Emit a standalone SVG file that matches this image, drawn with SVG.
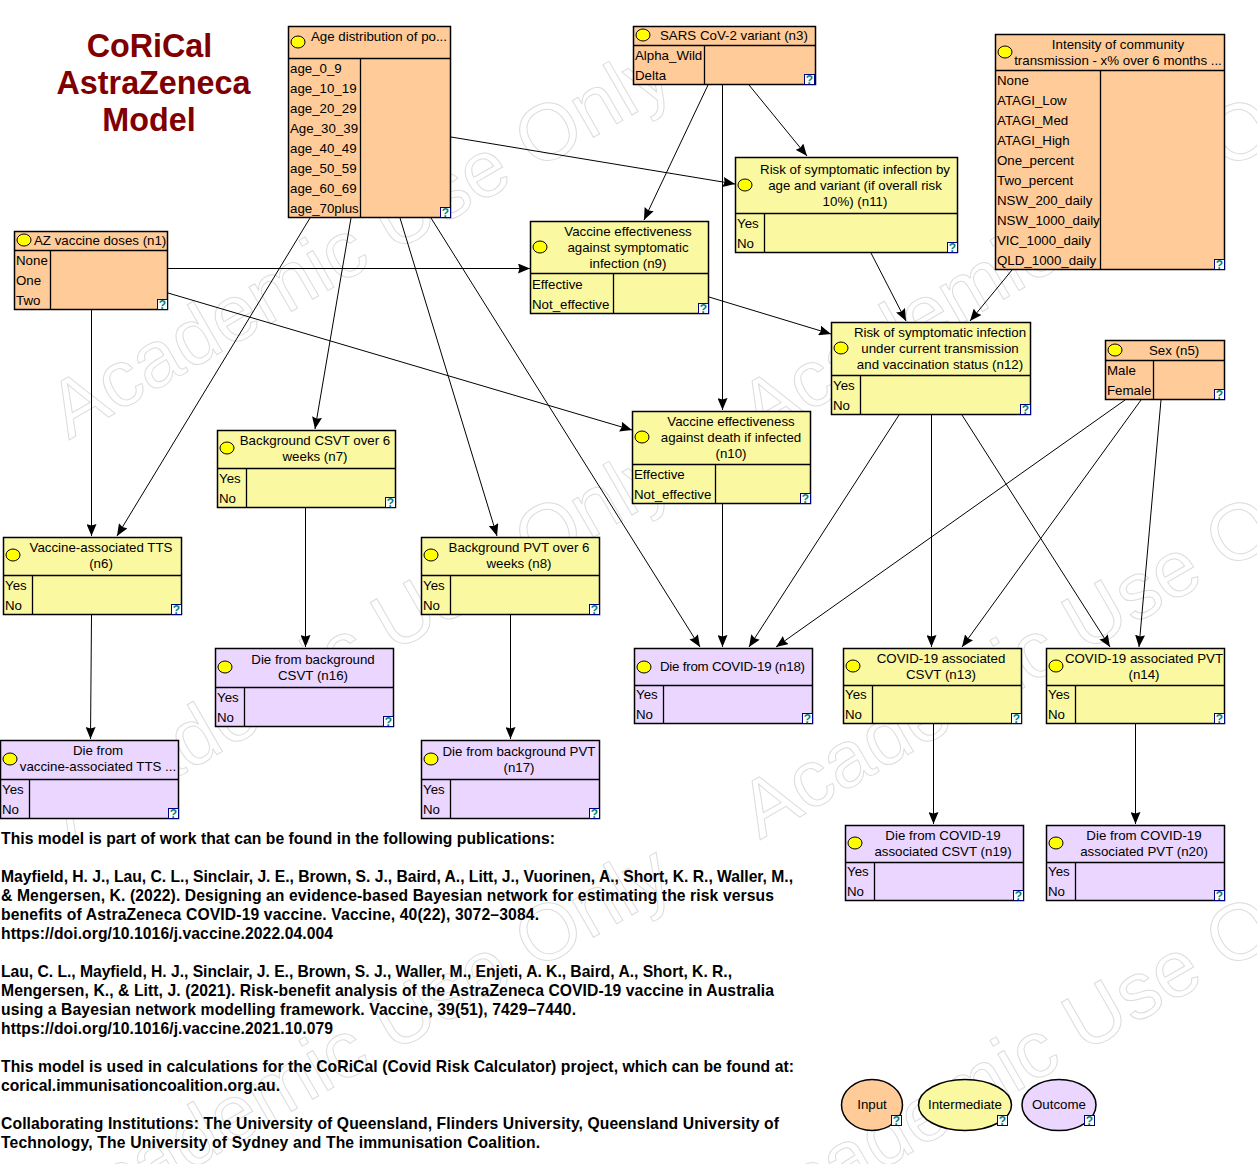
<svg xmlns="http://www.w3.org/2000/svg" width="1257" height="1164" viewBox="0 0 1257 1164">
<defs>
<marker id="arr" viewBox="0 0 12 10" refX="12" refY="5" markerWidth="12" markerHeight="10" markerUnits="userSpaceOnUse" orient="auto"><path d="M0 0L12 5L0 10L1.500 5Z" fill="#000"/></marker>
<g id="q"><rect x="0.5" y="0.5" width="10" height="10" fill="#fff" stroke="#000080"/><text x="5.5" y="9.5" text-anchor="middle" class="qm">?</text></g>
</defs>
<style>
text{font-family:"Liberation Sans",Arial,sans-serif;font-size:13.3px;fill:#000}
.wm{font-size:80px;fill:none;stroke:#dcdcdc;stroke-width:1}
.qm{font-size:12px;font-weight:bold;fill:#008080}
.t{font-size:32.3px;font-weight:bold;fill:#800000;text-anchor:middle}
.b{font-size:15.7px;font-weight:bold}
.c{text-anchor:middle}
.box{stroke:#000;stroke-width:1.5}
.in{fill:#FFCC99}.im{fill:#FAF8A0}.ou{fill:#EAD6FF}
.ln{stroke:#000;stroke-width:1.3;fill:none}
.bulb{fill:#FFFF00;stroke:#000;stroke-width:1}
#edges line{stroke:#000;stroke-width:1;marker-end:url(#arr)}
</style>
<rect width="1257" height="1164" fill="#fff"/>
<g id="watermark">
<text class="wm" transform="translate(69,440) rotate(-30)">Academic Use Only</text>
<text class="wm" transform="translate(69,840) rotate(-30)">Academic Use Only</text>
<text class="wm" transform="translate(69,1240) rotate(-30)">Academic Use Only</text>
<text class="wm" transform="translate(760,440) rotate(-30)">Academic Use Only</text>
<text class="wm" transform="translate(760,840) rotate(-30)">Academic Use Only</text>
<text class="wm" transform="translate(760,1240) rotate(-30)">Academic Use Only</text>
</g>
<g id="title"><text class="t" x="149.500" y="57">CoRiCal</text><text class="t" x="153.500" y="94">AstraZeneca</text><text class="t" x="149" y="131">Model</text></g>
<g id="edges">
<line x1="451" y1="137" x2="735" y2="184"/><line x1="310" y1="218" x2="117" y2="536"/><line x1="351" y1="218" x2="315" y2="429"/><line x1="400" y1="218" x2="497" y2="536"/><line x1="431" y1="218" x2="700" y2="647"/>
<line x1="708" y1="85" x2="644" y2="220"/><line x1="722.500" y1="85" x2="722.500" y2="410"/><line x1="749" y1="85" x2="807" y2="156"/><line x1="1012" y1="270" x2="970" y2="321"/>
<line x1="168" y1="268.500" x2="530" y2="268.500"/><line x1="168" y1="293" x2="632" y2="430"/><line x1="91.500" y1="310" x2="91.500" y2="536"/><line x1="709" y1="297" x2="831" y2="334"/><line x1="871" y1="253" x2="906" y2="321"/>
<line x1="305.500" y1="508" x2="305.500" y2="647"/><line x1="91.500" y1="615" x2="90.500" y2="739"/><line x1="510.500" y1="615" x2="510.500" y2="739"/><line x1="722.500" y1="504" x2="722.500" y2="647"/>
<line x1="899" y1="415" x2="749" y2="647"/><line x1="931.500" y1="415" x2="931.500" y2="647"/><line x1="962" y1="415" x2="1110" y2="647"/><line x1="1125" y1="400" x2="776" y2="647"/><line x1="1141" y1="400" x2="962" y2="647"/><line x1="1161" y1="400" x2="1139" y2="647"/>
<line x1="933.500" y1="724" x2="933.500" y2="824"/><line x1="1135.500" y1="724" x2="1135.500" y2="824"/>
</g>
<g id="n2"><rect class="box in" x="288.500" y="26.500" width="162" height="191"/><path class="ln" d="M288.500 58.500H450.500M360.500 58.500V217.500"/><ellipse class="bulb" cx="298" cy="42" rx="7" ry="6"/><text x="311" y="41">Age distribution of po...</text><text x="290" y="73">age_0_9</text><text x="290" y="93">age_10_19</text><text x="290" y="113">age_20_29</text><text x="290" y="133">Age_30_39</text><text x="290" y="153">age_40_49</text><text x="290" y="173">age_50_59</text><text x="290" y="193">age_60_69</text><text x="290" y="213">age_70plus</text><use href="#q" x="440" y="207"/></g>
<g id="n3"><rect class="box in" x="633.500" y="26.500" width="182" height="58"/><path class="ln" d="M633.500 45.500H815.500M704.500 45.500V84.500"/><ellipse class="bulb" cx="643" cy="35" rx="7" ry="6"/><text x="660" y="40">SARS CoV-2 variant (n3)</text><text x="635" y="60">Alpha_Wild</text><text x="635" y="80">Delta</text><use href="#q" x="804" y="74"/></g>
<g id="n4"><rect class="box in" x="995.500" y="34.500" width="229" height="235"/><path class="ln" d="M995.500 70.500H1224.500M1100.500 70.500V269.500"/><ellipse class="bulb" cx="1005" cy="52" rx="7" ry="6"/><text class="c" x="1118" y="49">Intensity of community</text><text class="c" x="1118" y="65">transmission - x% over 6 months ...</text><text x="997" y="85">None</text><text x="997" y="105">ATAGI_Low</text><text x="997" y="125">ATAGI_Med</text><text x="997" y="145">ATAGI_High</text><text x="997" y="165">One_percent</text><text x="997" y="185">Two_percent</text><text x="997" y="205">NSW_200_daily</text><text x="997" y="225">NSW_1000_daily</text><text x="997" y="245">VIC_1000_daily</text><text x="997" y="265">QLD_1000_daily</text><use href="#q" x="1214" y="259"/></g>
<g id="n1"><rect class="box in" x="14.500" y="231.500" width="153" height="78"/><path class="ln" d="M14.500 250.500H167.500M50.500 250.500V309.500"/><ellipse class="bulb" cx="24" cy="240" rx="7" ry="6"/><text x="34" y="245">AZ vaccine doses (n1)</text><text x="16" y="265">None</text><text x="16" y="285">One</text><text x="16" y="305">Two</text><use href="#q" x="157" y="299"/></g>
<g id="n9"><rect class="box im" x="530.500" y="221.500" width="178" height="92"/><path class="ln" d="M530.500 273.500H708.500M613.500 273.500V313.500"/><ellipse class="bulb" cx="540" cy="247" rx="7" ry="6"/><text class="c" x="628" y="236">Vaccine effectiveness</text><text class="c" x="628" y="252">against symptomatic</text><text class="c" x="628" y="268">infection (n9)</text><text x="532" y="289">Effective</text><text x="532" y="309">Not_effective</text><use href="#q" x="698" y="303"/></g>
<g id="n11"><rect class="box im" x="735.500" y="157.500" width="222" height="95"/><path class="ln" d="M735.500 213.500H957.500M764.500 213.500V252.500"/><ellipse class="bulb" cx="745" cy="185" rx="7" ry="6"/><text class="c" x="855" y="174">Risk of symptomatic infection by</text><text class="c" x="855" y="190">age and variant (if overall risk</text><text class="c" x="855" y="206">10%) (n11)</text><text x="737" y="228">Yes</text><text x="737" y="248">No</text><use href="#q" x="947" y="242"/></g>
<g id="n12"><rect class="box im" x="831.500" y="322.500" width="199" height="92"/><path class="ln" d="M831.500 375.500H1030.500M860.500 375.500V414.500"/><ellipse class="bulb" cx="841" cy="348" rx="7" ry="6"/><text class="c" x="940" y="337">Risk of symptomatic infection</text><text class="c" x="940" y="353">under current transmission</text><text class="c" x="940" y="369">and vaccination status (n12)</text><text x="833" y="390">Yes</text><text x="833" y="410">No</text><use href="#q" x="1020" y="404"/></g>
<g id="n5"><rect class="box in" x="1105.500" y="340.500" width="119" height="59"/><path class="ln" d="M1105.500 360.500H1224.500M1153.500 360.500V399.500"/><ellipse class="bulb" cx="1115" cy="350" rx="7" ry="6"/><text x="1149" y="355">Sex (n5)</text><text x="1107" y="375">Male</text><text x="1107" y="395">Female</text><use href="#q" x="1214" y="389"/></g>
<g id="n10"><rect class="box im" x="632.500" y="411.500" width="178" height="92"/><path class="ln" d="M632.500 464.500H810.500M715.500 464.500V503.500"/><ellipse class="bulb" cx="642" cy="437" rx="7" ry="6"/><text class="c" x="731" y="426">Vaccine effectiveness</text><text class="c" x="731" y="442">against death if infected</text><text class="c" x="731" y="458">(n10)</text><text x="634" y="479">Effective</text><text x="634" y="499">Not_effective</text><use href="#q" x="800" y="493"/></g>
<g id="n7"><rect class="box im" x="217.500" y="430.500" width="178" height="77"/><path class="ln" d="M217.500 468.500H395.500M246.500 468.500V507.500"/><ellipse class="bulb" cx="227" cy="448" rx="7" ry="6"/><text class="c" x="315" y="445">Background CSVT over 6</text><text class="c" x="315" y="461">weeks (n7)</text><text x="219" y="483">Yes</text><text x="219" y="503">No</text><use href="#q" x="385" y="497"/></g>
<g id="n6"><rect class="box im" x="3.500" y="537.500" width="178" height="77"/><path class="ln" d="M3.500 575.500H181.500M32.500 575.500V614.500"/><ellipse class="bulb" cx="13" cy="555" rx="7" ry="6"/><text class="c" x="101" y="552">Vaccine-associated TTS</text><text class="c" x="101" y="568">(n6)</text><text x="5" y="590">Yes</text><text x="5" y="610">No</text><use href="#q" x="171" y="604"/></g>
<g id="n8"><rect class="box im" x="421.500" y="537.500" width="178" height="77"/><path class="ln" d="M421.500 575.500H599.500M450.500 575.500V614.500"/><ellipse class="bulb" cx="431" cy="555" rx="7" ry="6"/><text class="c" x="519" y="552">Background PVT over 6</text><text class="c" x="519" y="568">weeks (n8)</text><text x="423" y="590">Yes</text><text x="423" y="610">No</text><use href="#q" x="589" y="604"/></g>
<g id="n16"><rect class="box ou" x="215.500" y="648.500" width="178" height="78"/><path class="ln" d="M215.500 687.500H393.500M244.500 687.500V726.500"/><ellipse class="bulb" cx="225" cy="667" rx="7" ry="6"/><text class="c" x="313" y="664">Die from background</text><text class="c" x="313" y="680">CSVT (n16)</text><text x="217" y="702">Yes</text><text x="217" y="722">No</text><use href="#q" x="383" y="716"/></g>
<g id="n15"><rect class="box ou" x="0.500" y="740.500" width="178" height="78"/><path class="ln" d="M0.500 779.500H178.500M29.500 779.500V818.500"/><ellipse class="bulb" cx="10" cy="759" rx="7" ry="6"/><text class="c" x="98" y="755">Die from</text><text class="c" x="98" y="771">vaccine-associated TTS ...</text><text x="2" y="794">Yes</text><text x="2" y="814">No</text><use href="#q" x="168" y="808"/></g>
<g id="n17"><rect class="box ou" x="421.500" y="740.500" width="178" height="78"/><path class="ln" d="M421.500 779.500H599.500M450.500 779.500V818.500"/><ellipse class="bulb" cx="431" cy="759" rx="7" ry="6"/><text class="c" x="519" y="756">Die from background PVT</text><text class="c" x="519" y="772">(n17)</text><text x="423" y="794">Yes</text><text x="423" y="814">No</text><use href="#q" x="589" y="808"/></g>
<g id="n18"><rect class="box ou" x="634.500" y="648.500" width="178" height="75"/><path class="ln" d="M634.500 685.500H812.500M663.500 685.500V723.500"/><ellipse class="bulb" cx="644" cy="667" rx="7" ry="6"/><text x="660" y="671" textLength="145">Die from COVID-19 (n18)</text><text x="636" y="699">Yes</text><text x="636" y="719">No</text><use href="#q" x="802" y="713"/></g>
<g id="n13"><rect class="box im" x="843.500" y="648.500" width="178" height="75"/><path class="ln" d="M843.500 685.500H1021.500M872.500 685.500V723.500"/><ellipse class="bulb" cx="853" cy="666" rx="7" ry="6"/><text class="c" x="941" y="663">COVID-19 associated</text><text class="c" x="941" y="679">CSVT (n13)</text><text x="845" y="699">Yes</text><text x="845" y="719">No</text><use href="#q" x="1011" y="713"/></g>
<g id="n14"><rect class="box im" x="1046.500" y="648.500" width="178" height="75"/><path class="ln" d="M1046.500 685.500H1224.500M1075.500 685.500V723.500"/><ellipse class="bulb" cx="1056" cy="666" rx="7" ry="6"/><text class="c" x="1144" y="663">COVID-19 associated PVT</text><text class="c" x="1144" y="679">(n14)</text><text x="1048" y="699">Yes</text><text x="1048" y="719">No</text><use href="#q" x="1214" y="713"/></g>
<g id="n19"><rect class="box ou" x="845.500" y="825.500" width="178" height="75"/><path class="ln" d="M845.500 862.500H1023.500M874.500 862.500V900.500"/><ellipse class="bulb" cx="855" cy="843" rx="7" ry="6"/><text class="c" x="943" y="840">Die from COVID-19</text><text class="c" x="943" y="856">associated CSVT (n19)</text><text x="847" y="876">Yes</text><text x="847" y="896">No</text><use href="#q" x="1013" y="890"/></g>
<g id="n20"><rect class="box ou" x="1046.500" y="825.500" width="178" height="75"/><path class="ln" d="M1046.500 862.500H1224.500M1075.500 862.500V900.500"/><ellipse class="bulb" cx="1056" cy="843" rx="7" ry="6"/><text class="c" x="1144" y="840">Die from COVID-19</text><text class="c" x="1144" y="856">associated PVT (n20)</text><text x="1048" y="876">Yes</text><text x="1048" y="896">No</text><use href="#q" x="1214" y="890"/></g>
<g id="publications">
<text class="b" x="1" y="844" textLength="554">This model is part of work that can be found in the following publications:</text>
<text class="b" x="1" y="882" textLength="792">Mayfield, H. J., Lau, C. L., Sinclair, J. E., Brown, S. J., Baird, A., Litt, J., Vuorinen, A., Short, K. R., Waller, M.,</text>
<text class="b" x="1" y="901" textLength="773">&amp; Mengersen, K. (2022). Designing an evidence-based Bayesian network for estimating the risk versus</text>
<text class="b" x="1" y="920" textLength="538">benefits of AstraZeneca COVID-19 vaccine. Vaccine, 40(22), 3072–3084.</text>
<text class="b" x="1" y="939" textLength="332">https://doi.org/10.1016/j.vaccine.2022.04.004</text>
<text class="b" x="1" y="977" textLength="731">Lau, C. L., Mayfield, H. J., Sinclair, J. E., Brown, S. J., Waller, M., Enjeti, A. K., Baird, A., Short, K. R.,</text>
<text class="b" x="1" y="996" textLength="773">Mengersen, K., &amp; Litt, J. (2021). Risk-benefit analysis of the AstraZeneca COVID-19 vaccine in Australia</text>
<text class="b" x="1" y="1015" textLength="575">using a Bayesian network modelling framework. Vaccine, 39(51), 7429–7440.</text>
<text class="b" x="1" y="1034" textLength="332">https://doi.org/10.1016/j.vaccine.2021.10.079</text>
<text class="b" x="1" y="1072" textLength="793">This model is used in calculations for the CoRiCal (Covid Risk Calculator) project, which can be found at:</text>
<text class="b" x="1" y="1091" textLength="279">corical.immunisationcoalition.org.au.</text>
<text class="b" x="1" y="1129" textLength="778">Collaborating Institutions: The University of Queensland, Flinders University, Queensland University of</text>
<text class="b" x="1" y="1148" textLength="539">Technology, The University of Sydney and The immunisation Coalition.</text>
</g>
<g id="legend-input"><ellipse class="box in" cx="872" cy="1105" rx="30.500" ry="25.500"/><text class="c" x="872" y="1109">Input</text><use href="#q" x="891" y="1115"/></g>
<g id="legend-intermediate"><ellipse class="box im" cx="965" cy="1105" rx="46.500" ry="25.500"/><text class="c" x="965" y="1109">Intermediate</text><use href="#q" x="997" y="1115"/></g>
<g id="legend-outcome"><ellipse class="box ou" cx="1059" cy="1105" rx="37" ry="25.500"/><text class="c" x="1059" y="1109">Outcome</text><use href="#q" x="1084" y="1115"/></g>
</svg>
